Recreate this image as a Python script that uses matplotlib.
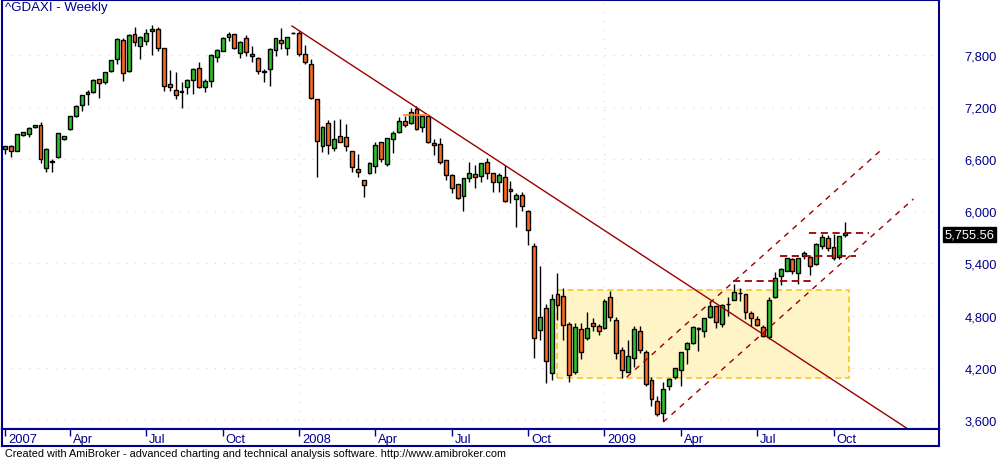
import matplotlib
matplotlib.use('Agg')
import matplotlib.pyplot as plt
import matplotlib.transforms as mtransforms
from matplotlib.patches import Rectangle
import numpy as np

plt.rcParams['font.family'] = ['Liberation Sans', 'DejaVu Sans']

# weekly OHLC, ^GDAXI, mid Jan 2007 .. Oct 2009
opens = [
    6714, 6752, 6698, 6875, 6890, 6967, 6990, 6503, 6570, 6621,
    6829, 6944, 7094, 7224, 7347, 7370, 7520, 7485, 7620, 7754,
    7973, 7620, 8042, 7900, 7965, 8073, 8096, 7877, 7462, 7397,
    7376, 7428, 7516, 7646, 7435, 7497, 7773, 7850, 8003, 8042,
    7819, 7992, 7785, 7769, 7610, 7639, 7854, 7969, 7877, 8048,
    8050, 7808, 7692, 7289, 6752, 7013, 6725, 6867, 6856, 6694,
    6483, 6360, 6437, 6526, 6794, 6549, 6836, 6910, 7036, 7013,
    7178, 6967, 7097, 6787, 6775, 6587, 6418, 6314, 6180, 6380,
    6430, 6403, 6564, 6441, 6334, 6391, 6253, 6138, 6184, 5999,
    5597, 4637, 4882, 4134, 5048, 5021, 4702, 4153, 4645, 4537,
    4710, 4683, 4652, 5009, 4752, 4403, 4153, 4307, 4618, 4376,
    4057, 3812, 3673, 3984, 4096, 4172, 4411, 4479, 4648, 4618,
    4779, 4905, 4698, 4930, 4982, 5062, 5044, 4829, 4760, 4668,
    4556, 5009, 5259, 5316, 5450, 5289, 5481, 5470, 5393, 5596,
    5689, 5585, 5470, 5727]

closes = [
    6748, 6691, 6886, 6910, 6959, 6990, 6599, 6714, 6574, 6898,
    6863, 7094, 7213, 7339, 7370, 7512, 7474, 7604, 7739, 7984,
    7593, 8030, 7946, 8003, 8053, 8096, 7877, 7447, 7428, 7335,
    7380, 7512, 7639, 7435, 7501, 7796, 7858, 8000, 8042, 7877,
    7954, 7838, 7808, 7612, 7613, 7869, 7992, 7942, 8003, 8052,
    7808, 7716, 7309, 6813, 6967, 6764, 6829, 6802, 6748, 6506,
    6449, 6307, 6552, 6764, 6602, 6840, 6898, 7036, 6998, 7147,
    6944, 7097, 6794, 6764, 6572, 6418, 6264, 6149, 6380, 6441,
    6391, 6552, 6437, 6334, 6418, 6123, 6230, 6184, 6061, 5788,
    4537, 4779, 4280, 4986, 4925, 4694, 4119, 4664, 4376, 4652,
    4683, 4618, 4963, 4779, 4364, 4172, 4330, 4645, 4407, 4007,
    3838, 3666, 3954, 4069, 4192, 4376, 4479, 4671, 4660, 4767,
    4905, 4729, 4921, 4933, 5067, 5064, 4837, 4767, 4694, 4568,
    4978, 5228, 5336, 5458, 5309, 5458, 5520, 5374, 5623, 5700,
    5574, 5462, 5712, 5755.56]

highs = [
    6756, 6764, 6894, 6915, 6967, 6998, 7025, 6729, 6602, 6905,
    6870, 7100, 7220, 7345, 7397, 7524, 7527, 7610, 7746, 7996,
    7996, 8038, 8119, 8015, 8100, 8145, 8119, 7880, 7627, 7608,
    7485, 7520, 7646, 7716, 7524, 7812, 7869, 8008, 8061, 8046,
    7960, 8030, 7907, 7775, 7639, 7881, 8000, 8107, 8010, 8069,
    8080, 7915, 7754, 7290, 6986, 7051, 7051, 7063, 7002, 6700,
    6660, 6365, 6572, 6794, 6800, 6845, 6929, 7082, 7094, 7186,
    7217, 7105, 7105, 6833, 6840, 6592, 6430, 6320, 6385, 6564,
    6533, 6560, 6610, 6445, 6441, 6537, 6349, 6207, 6219, 6010,
    5640, 5374, 4932, 5048, 5290, 5117, 4721, 4710, 4710, 4837,
    4767, 4702, 4990, 5086, 4779, 4434, 4518, 4675, 4683, 4400,
    4088, 3877, 4030, 4080, 4200, 4385, 4490, 4680, 4665, 4775,
    4971, 4915, 4930, 5009, 5163, 5113, 5050, 4848, 4790, 4691,
    5009, 5297, 5345, 5465, 5458, 5465, 5547, 5480, 5630, 5738,
    5727, 5739, 5720, 5880]

lows = [
    6660, 6629, 6691, 6870, 6852, 6955, 6552, 6449, 6449, 6615,
    6825, 6940, 7082, 7159, 7224, 7362, 7309, 7470, 7604, 7696,
    7504, 7608, 7907, 7754, 7915, 7800, 7850, 7382, 7389, 7293,
    7194, 7351, 7351, 7416, 7378, 7435, 7723, 7846, 7965, 7870,
    7769, 7792, 7716, 7581, 7485, 7447, 7792, 7869, 7800, 8038,
    7785, 7696, 7293, 6391, 6687, 6660, 6698, 6794, 6698, 6456,
    6399, 6169, 6430, 6441, 6564, 6526, 6668, 6905, 6967, 7005,
    6940, 6910, 6790, 6648, 6549, 6357, 6207, 6140, 6007, 6334,
    6268, 6341, 6372, 6226, 6226, 6103, 6092, 5815, 6007, 5616,
    4307, 4522, 4019, 4061, 4752, 4522, 4038, 4126, 4299, 4518,
    4625, 4579, 4640, 4741, 4299, 4076, 4146, 4203, 4368, 3990,
    3762, 3647, 3589, 3942, 4069, 3992, 4238, 4468, 4395, 4549,
    4770, 4652, 4664, 4798, 4975, 4971, 4760, 4675, 4683, 4549,
    4529, 5000, 5151, 5310, 5278, 5163, 5451, 5270, 5381, 5566,
    5547, 5443, 5451, 5700]

# date axis: bar index where each period starts
date_ticks = [0, 11, 24, 37, 50, 63, 76, 89, 102, 115, 128, 141]
date_labels = ['2007', 'Apr', 'Jul', 'Oct', '2008', 'Apr', 'Jul', 'Oct',
               '2009', 'Apr', 'Jul', 'Oct']
year_ticks = [50, 102]
price_ticks = [3600, 4200, 4800, 5400, 6000, 6600, 7200, 7800]

# hand drawn studies (bar index, price)
trend_x = [48.8, 153.7]
trend_y = [8134, 3492]
chan_up_x = [105.8, 148.9]
chan_up_y = [4092, 6694]
chan_lo_x = [112.0, 154.6]
chan_lo_y = [3574, 6142]
hlines = [(5194, 123.9, 137.8), (5482, 131.9, 144.8), (5747, 136.8, 147.0)]
box_x = [94.0, 143.7]
box_y = [4080, 5094]
orange_y = 7105
orange_x = [67.9, 72.0]

NAVY = '#00008B'
GREEN = '#2EC02E'
ORANGE = '#FF6A22'
RED = '#990000'

W, H = 1000.0, 460.0
fig = plt.figure(figsize=(10, 4.6), dpi=100)
fig.patch.set_facecolor('white')
ax = fig.add_axes([2 / W, (H - 430) / H, 937 / W, 429 / H])
ax.set_xlim(-0.56, 158.95)
ax.set_ylim(3493.6, 8433.3)

# dotted grid
for p in price_ticks:
    ax.axhline(p, color='#FFC0CC', lw=0.75, ls=(0, (1, 7.5)), zorder=0)
for t in year_ticks:
    ax.axvline(t, color='#FFC0CC', lw=0.75, ls=(0, (1, 7.5)), zorder=0)

# consolidation box
ax.add_patch(Rectangle((box_x[0], box_y[0]), box_x[1] - box_x[0], box_y[1] - box_y[0],
                       facecolor='#FFF4C6', edgecolor='#F2C418', lw=1.1, ls=(0, (4, 2.5)),
                       zorder=1))

# candles
idx = np.arange(len(closes))
o = np.array(opens, dtype=float)
c = np.array(closes, dtype=float)
colors = [GREEN if cc >= oo else ORANGE for oo, cc in zip(o, c)]
ax.vlines(idx, lows, highs, color='black', lw=1.0, zorder=2)
ax.bar(idx, np.maximum(np.abs(c - o), 1.0), bottom=np.minimum(o, c), width=0.66,
       color=colors, edgecolor='black', linewidth=1.0, zorder=3)

# studies
ax.plot(trend_x, trend_y, color=RED, lw=1.0, zorder=4)
ax.plot(chan_up_x, chan_up_y, color=RED, lw=1.0, ls=(0, (4, 4)), zorder=4)
ax.plot(chan_lo_x, chan_lo_y, color=RED, lw=1.0, ls=(0, (4, 4)), zorder=4)
for y, x0, x1 in hlines:
    ax.plot([x0, x1], [y, y], color=RED, lw=1.3, ls=(0, (4, 2.5)), zorder=4)
ax.plot(orange_x, [orange_y, orange_y], color='#FF7A30', lw=1.2, zorder=4)

# frame and price scale
for s in ax.spines.values():
    s.set_color(NAVY)
    s.set_linewidth(1.5)
ax.set_xticks([])
ax.yaxis.tick_right()
ax.set_yticks(price_ticks)
ax.set_yticklabels([f'{p:,}' for p in price_ticks])
ax.tick_params(axis='y', length=0, pad=41.8, labelsize=9.3, labelcolor=NAVY)
for lbl in ax.get_yticklabels():
    lbl.set_horizontalalignment('right')

# last price marker
tr = mtransforms.blended_transform_factory(fig.transFigure, ax.transData)
fig.text(945 / W, closes[-1] - 22, f'{closes[-1]:,.2f}', transform=tr, color='white',
         fontsize=9.3, va='center', ha='left',
         bbox=dict(boxstyle='square,pad=0.12', facecolor='black', edgecolor='black'))

# date strip
dax = fig.add_axes([2 / W, (H - 447) / H, 937 / W, 17 / H])
dax.set_xlim(ax.get_xlim())
dax.set_ylim(0, 1)
dax.set_xticks([])
dax.set_yticks([])
for s in dax.spines.values():
    s.set_color(NAVY)
    s.set_linewidth(1.5)
dax.vlines(date_ticks, 0.58, 1.0, color=NAVY, lw=1.0)
for t, lab in zip(date_ticks, date_labels):
    dax.text(t + 0.5, 0.42, lab, color=NAVY, fontsize=9.3, va='center', ha='left')

fig.text(5 / W, 1 - 2 / H, '^GDAXI - Weekly', color=NAVY, fontsize=9.5, va='top', ha='left')
fig.text(5 / W, 1 - 454 / H,
         'Created with AmiBroker - advanced charting and technical analysis software. '
         'http://www.amibroker.com', color='black', fontsize=7.8, va='center', ha='left')

fig.savefig('out.png', dpi=100)
